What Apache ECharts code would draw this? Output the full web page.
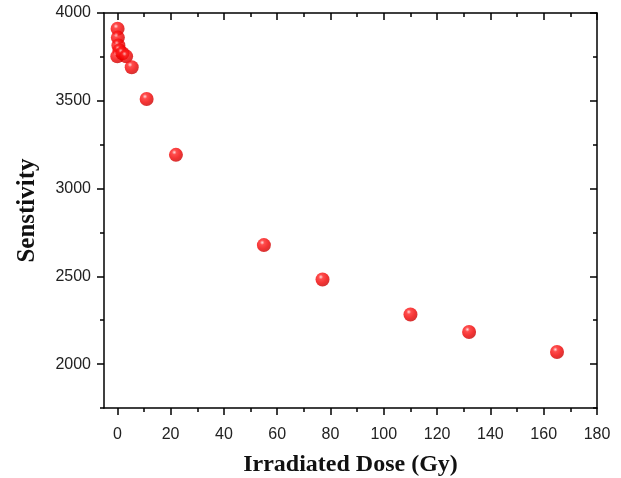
<!DOCTYPE html>
<html>
<head>
<meta charset="utf-8">
<script src="https://cdn.jsdelivr.net/npm/echarts@6/dist/echarts.min.js"></script>
<style>
html,body{margin:0;padding:0;background:#fff;}
#chart{width:621px;height:478px;}
</style>
</head>
<body>
<div id="chart"></div>
<script>
// Data
var doseGy = [0.1, 0.2, 0.4, 0.8, 0, 1.9, 3.3, 5.4, 11, 22, 55, 77, 110, 132, 165];
var sensitivity = [3910, 3860, 3815, 3787, 3753, 3771, 3753, 3691, 3510, 3192, 2678, 2482, 2283, 2183, 2069];
var xMajorTicks = [0, 20, 40, 60, 80, 100, 120, 140, 160, 180];
var xMinorTicks = [10, 30, 50, 70, 90, 110, 130, 150, 170];
var yMajorTicks = [2000, 2500, 3000, 3500, 4000];
var yMinorTicks = [1750, 2250, 2750, 3250, 3750];
var xTitle = 'Irradiated Dose (Gy)';
var yTitle = 'Senstivity';

var points = doseGy.map(function (d, i) { return [d, sensitivity[i]]; });

var XMIN = -5, XMAX = 180, YMIN = 1750, YMAX = 4000;
var lineStyle = { color: '#000', width: 1.5 };
var gridRect = { left: 104, top: 13, right: 24, bottom: 70, containLabel: false, outerBoundsMode: 'none' };
var plainNum = function (v) { return String(v); };

function xAxis(gridIndex, position, ticks, len, inside, showLabel, showLine, name) {
  return {
    type: 'value', gridIndex: gridIndex, position: position,
    min: XMIN, max: XMAX,
    axisLine: { show: showLine, onZero: false, lineStyle: lineStyle },
    axisTick: { show: true, inside: inside, length: len, customValues: ticks, lineStyle: lineStyle },
    axisLabel: { show: showLabel, customValues: ticks, formatter: plainNum, margin: 19, fontFamily: 'Liberation Sans', fontSize: 16, color: '#222' },
    splitLine: { show: false },
    name: name || '',
    nameLocation: 'middle', nameGap: 45,
    nameTextStyle: { fontFamily: 'Liberation Serif', fontWeight: 'bold', fontSize: 24, color: '#111' }
  };
}
function yAxis(gridIndex, position, ticks, len, inside, showLabel, showLine, name) {
  return {
    type: 'value', gridIndex: gridIndex, position: position,
    min: YMIN, max: YMAX,
    axisLine: { show: showLine, onZero: false, lineStyle: lineStyle },
    axisTick: { show: true, inside: inside, length: len, customValues: ticks, lineStyle: lineStyle },
    axisLabel: { show: showLabel, customValues: ticks, formatter: plainNum, margin: 13, fontFamily: 'Liberation Sans', fontSize: 16, color: '#222' },
    splitLine: { show: false },
    name: name || '',
    nameLocation: 'middle', nameGap: 64,
    nameTextStyle: { fontFamily: 'Liberation Serif', fontWeight: 'bold', fontSize: 25, color: '#111' }
  };
}

var chart = echarts.init(document.getElementById('chart'), null, { renderer: 'canvas' });
chart.setOption({
  backgroundColor: '#fff',
  animation: false,
  grid: [Object.assign({}, gridRect), Object.assign({}, gridRect)],
  xAxis: [
    xAxis(0, 'bottom', xMajorTicks, 7, false, true, true, xTitle),
    xAxis(0, 'top', xMajorTicks, 7, true, false, true),
    xAxis(1, 'bottom', xMinorTicks, 4, false, false, false),
    xAxis(1, 'top', xMinorTicks, 4, true, false, false)
  ],
  yAxis: [
    yAxis(0, 'left', yMajorTicks, 7, false, true, true, yTitle),
    yAxis(0, 'right', yMajorTicks, 7, true, false, true),
    yAxis(1, 'left', yMinorTicks, 4, false, false, false),
    yAxis(1, 'right', yMinorTicks, 4, true, false, false)
  ],
  series: [{
    type: 'scatter',
    xAxisIndex: 0, yAxisIndex: 0,
    data: points,
    symbol: 'circle',
    symbolSize: 14,
    itemStyle: {
      color: {
        type: 'radial', x: 0.38, y: 0.32, r: 0.75,
        colorStops: [
          { offset: 0, color: '#ffd6d6' },
          { offset: 0.22, color: '#ff2020' },
          { offset: 0.6, color: '#f00000' },
          { offset: 1, color: '#c00000' }
        ]
      }
    }
  }]
});
</script>
</body>
</html>
